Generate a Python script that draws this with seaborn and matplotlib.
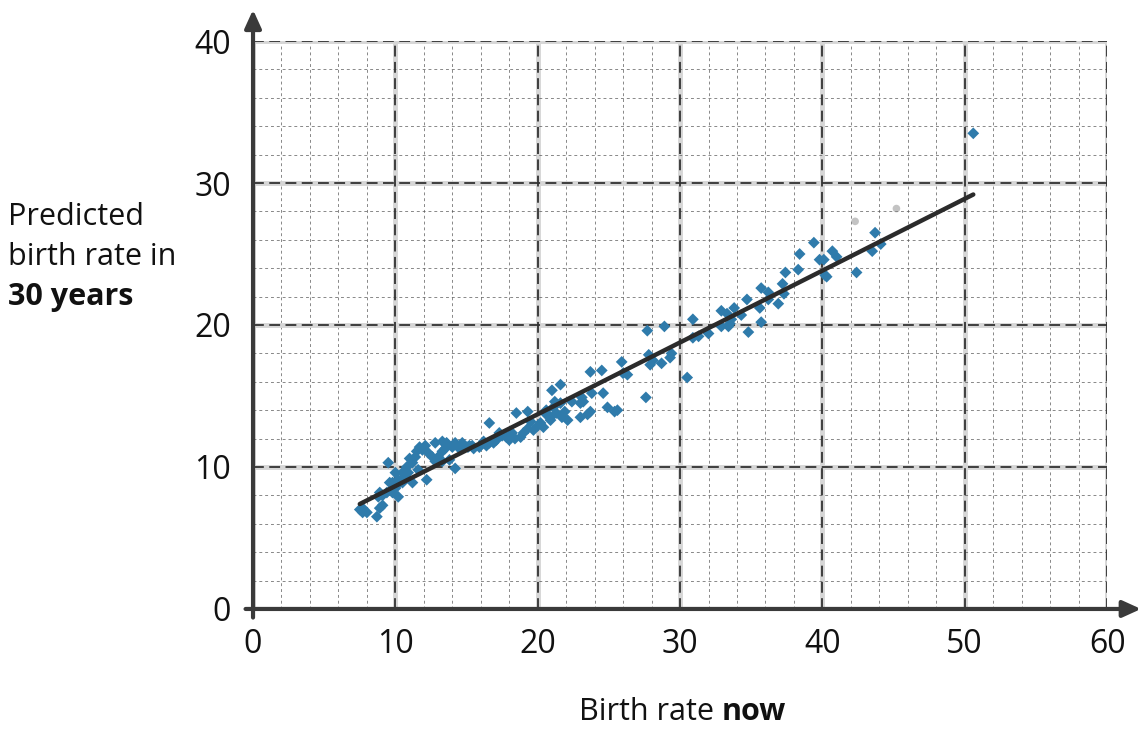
import numpy as np
import pandas as pd
import matplotlib
matplotlib.use('Agg')
import matplotlib.pyplot as plt
import seaborn as sns

# values
birth_now = [
    7.5, 7.7, 8.0, 7.7, 8.7, 8.9, 9.1, 8.8, 9.1, 9.4, 8.9, 9.8, 10.0, 10.1, 9.8, 10.2,
    9.6, 9.5, 10.0, 10.2, 10.5, 10.7, 10.5, 10.9, 10.8, 11.2, 11.0, 11.4, 11.5, 11.9,
    11.7, 12.1, 12.3, 12.6, 12.8, 11.2, 12.2, 13.0, 13.3, 13.5, 14.0, 14.2, 14.5, 14.7,
    15.1, 15.4, 14.2, 13.6, 13.3, 12.8, 11.6, 13.8, 13.3,
    15.2, 15.5, 15.9, 16.4, 16.6, 16.9, 17.1, 17.3, 17.8, 18.2, 18.0, 18.4, 18.8, 19.0,
    19.3, 19.7, 20.4, 20.2, 20.9, 21.3, 21.6, 21.1, 20.6, 16.6, 18.5, 19.3, 20.6, 20.9,
    21.9, 21.7, 22.1, 21.2, 22.4, 23.0, 23.2, 23.1, 23.7, 23.5, 23.0, 24.9, 25.4, 25.6,
    23.8, 24.6, 21.0, 21.6, 23.7, 24.5, 26.3, 26.0, 25.9, 27.6, 17.5, 16.2, 19.5, 20.0,
    27.8, 27.9, 28.1, 28.7, 29.3, 29.4, 27.7, 28.9, 30.5, 30.9, 31.3, 32.0, 30.9, 32.9,
    33.4, 33.5, 33.6, 32.9, 33.3, 33.8, 34.3, 34.8, 35.7, 35.6, 34.7, 35.7, 36.2, 36.2,
    36.9, 37.2, 37.3, 37.4, 38.3, 38.4, 39.4, 39.8, 40.1, 40.2, 40.3, 40.7, 41.0, 42.4,
    43.5, 43.7, 44.1, 50.6,
]
predicted_30y = [
    7.0, 6.8, 6.8, 7.1, 6.5, 7.1, 7.3, 7.9, 8.0, 8.2, 8.2, 8.2, 8.5, 8.7, 8.9, 9.1,
    8.9, 10.3, 9.6, 7.9, 8.9, 9.3, 9.6, 9.6, 10.0, 10.3, 10.6, 10.7, 11.1, 11.2,
    11.4, 11.5, 11.0, 10.7, 10.4, 8.9, 9.1, 10.7, 11.1, 11.3, 11.4, 11.7, 11.3, 11.7,
    11.4, 11.5, 9.9, 11.7, 11.8, 11.7, 9.8, 10.5, 10.4,
    11.5, 11.3, 11.4, 11.5, 11.7, 11.7, 11.9, 12.4, 12.1, 12.4, 11.9, 12.0, 12.1, 12.4,
    12.7, 12.6, 12.8, 13.1, 13.5, 13.8, 14.5, 14.2, 14.0, 13.1, 13.8, 13.9, 13.7, 13.3,
    13.9, 13.5, 13.3, 14.6, 14.6, 14.5, 14.6, 14.9, 13.9, 13.7, 13.5, 14.2, 13.9, 14.0,
    15.2, 15.2, 15.4, 15.8, 16.7, 16.8, 16.5, 16.6, 17.4, 14.9, 12.2, 11.8, 13.2, 12.9,
    17.9, 17.2, 17.5, 17.3, 17.7, 18.0, 19.6, 19.9, 16.3, 19.1, 19.2, 19.4, 20.4, 19.9,
    19.9, 20.1, 20.4, 21.0, 20.8, 21.2, 20.7, 19.5, 20.2, 21.2, 21.8, 22.6, 22.3, 21.8,
    21.5, 22.9, 22.2, 23.7, 23.9, 25.0, 25.8, 24.6, 24.6, 23.5, 23.4, 25.2, 24.8, 23.7,
    25.2, 26.5, 25.7, 33.5,
]
# two faint grey smudges in the scan
faint_now = [42.3, 45.2]
faint_pred = [27.3, 28.2]

x_ticks = [0, 10, 20, 30, 40, 50, 60]
y_ticks = [0, 10, 20, 30, 40]

df = pd.DataFrame({'now': birth_now, 'pred': predicted_30y})

sns.set_style('white')
plt.rcParams['font.family'] = ['Open Sans', 'DejaVu Sans']

fig = plt.figure(figsize=(11.47, 7.3), dpi=100)
ax = fig.add_axes([0.2206, 0.1658, 0.7446, 0.778])

# grid: fine dashed every 2, heavier at every 10
ax.set_xticks(np.arange(0, 61, 2), minor=True)
ax.set_yticks(np.arange(0, 41, 2), minor=True)
ax.grid(which='minor', color='#555555', lw=0.7, ls=(0, (3, 3)), alpha=0.7)
ax.grid(which='major', color='#d6d6d6', lw=3.5, ls='-')
for v in x_ticks[1:]:
    ax.axvline(v, color='#333333', lw=1.3, ls=(0, (6, 3)), zorder=1)
for v in y_ticks[1:]:
    ax.axhline(v, color='#333333', lw=1.3, ls=(0, (6, 3)), zorder=1)
ax.set_axisbelow(True)

sns.scatterplot(data=df, x='now', y='pred', marker='D', s=36, color='#2f7bab',
                edgecolor='none', ax=ax, zorder=3)
ax.scatter(faint_now, faint_pred, s=30, color='#888888', alpha=0.5, edgecolor='none', zorder=3)
sns.regplot(data=df, x='now', y='pred', scatter=False, ci=None, truncate=True, ax=ax,
            line_kws=dict(color='#2b2b2b', lw=3.2, zorder=4))

ax.set_xlim(0, 60)
ax.set_ylim(0, 40)
ax.set_xticks(x_ticks)
ax.set_yticks(y_ticks)
ax.tick_params(axis='both', which='major', labelsize=23, labelcolor='#111111')
ax.tick_params(axis='x', which='major', length=10, width=2, color='#333333', direction='inout', pad=9)
ax.tick_params(axis='y', which='major', length=0, pad=16)
ax.tick_params(which='minor', length=0)
for s in ax.spines.values():
    s.set_visible(False)

# axis arrows
ax.annotate('', xy=(1.043, 0), xytext=(-0.012, 0), xycoords='axes fraction',
            arrowprops=dict(arrowstyle='-|>,head_length=1.1,head_width=0.5', color='#3a3a3a', lw=3))
ax.annotate('', xy=(0, 1.06), xytext=(0, -0.02), xycoords='axes fraction',
            arrowprops=dict(arrowstyle='-|>,head_length=1.1,head_width=0.5', color='#3a3a3a', lw=3))

ax.set_xlabel('')
ax.set_ylabel('')
fig.text(0.629, 0.014, 'Birth rate ', ha='right', va='baseline', fontsize=22, color='#111111')
fig.text(0.629, 0.014, 'now', ha='left', va='baseline', fontsize=22, fontweight='bold', color='#111111')
fig.text(0.007, 0.6918, 'Predicted', ha='left', va='baseline', fontsize=22, color='#111111')
fig.text(0.007, 0.6370, 'birth rate in', ha='left', va='baseline', fontsize=22, color='#111111')
fig.text(0.007, 0.5822, '30 years', ha='left', va='baseline', fontsize=22, fontweight='bold', color='#111111')

fig.savefig('out.png', dpi=100)
